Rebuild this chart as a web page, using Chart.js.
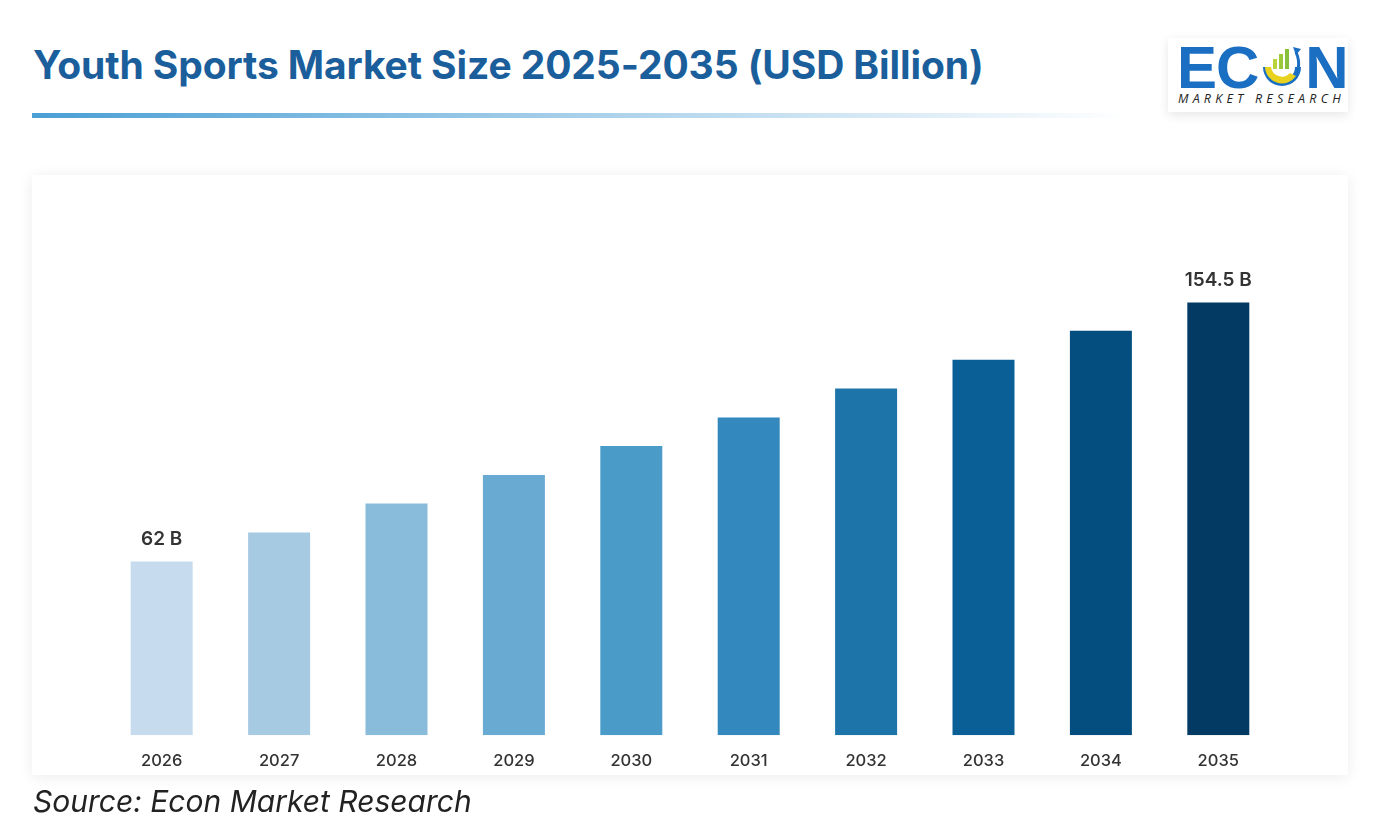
<!DOCTYPE html>
<html>
<head>
<meta charset="utf-8">
<script src="https://cdn.jsdelivr.net/npm/chart.js@4"></script>
<style>
    html, body { margin: 0; padding: 0; background: #ffffff; }
    body { width: 1380px; height: 836px; position: relative; overflow: hidden; font-family: Inter, "Noto Sans", sans-serif; }
    .title {
        position: absolute; left: 33px; top: 45px;
        font-size: 39px; font-weight: 700; line-height: 1;
        color: #1a5e9b; letter-spacing: -0.1px;
    }
    .rule {
        position: absolute; left: 32px; top: 113px; width: 1095px; height: 5px;
        background: linear-gradient(to right, #4a9fd5 0%, #9fcbe8 45%, rgba(255,255,255,0) 100%);
    }
    .logo {
        position: absolute; left: 1168px; top: 38px; width: 180px; height: 74px;
        background: #fff; box-shadow: 0 3px 10px rgba(0,0,0,0.10);
    }
    .logo .word {
        position: absolute; left: 9px; top: 3px; height: 54px;
        font-family: "Liberation Sans", Arial, sans-serif; font-weight: 700;
        font-size: 60px; line-height: 54px; color: #1b6fc2; letter-spacing: -1px;
        display: flex; align-items: center;
    }
    .logo svg { margin: 0 1px 0 2px; }
    .logo .sub {
        position: absolute; left: 10px; top: 52px;
        font-family: "Open Sans", sans-serif; font-style: italic; font-size: 12.5px;
        letter-spacing: 4.2px; color: #222;
    }
    .card {
        position: absolute; left: 32px; top: 175px; width: 1316px; height: 600px;
        background: #fff; box-shadow: 0 2px 14px rgba(0,0,0,0.08);
    }
    .chart-box {
        position: absolute; left: 32px; top: 175px; width: 1316px; height: 610px;
    }
    .source {
        position: absolute; left: 33px; top: 786px;
        font-size: 30px; font-style: italic; color: #222; line-height: 1;
    }
</style>
</head>
<body>
<div class="title">Youth Sports Market Size 2025-2035 (USD Billion)</div>
<div class="rule"></div>
<div class="logo">
    <div class="word">EC<svg width="44" height="46" viewBox="0 0 44 46">
        <path d="M3 22 A19 19 0 0 0 41 22 L35 22 A13 13 0 0 1 9 22 Z" fill="#1b6fc2"/>
        <path d="M5 22 A17 17 0 0 0 36 31 L30 28 A11 11 0 0 1 11 22 Z" fill="#e8d21e"/>
        <rect x="13" y="14" width="4" height="10" fill="#b9d43a"/>
        <rect x="19" y="9" width="4" height="15" fill="#9cc93a"/>
        <rect x="25" y="4" width="4" height="20" fill="#86c03c"/>
        <path d="M33 2 L41 4 L36 10 Z" fill="#1b6fc2"/>
        <path d="M36 7 Q40 16 38 24" stroke="#1b6fc2" stroke-width="3" fill="none"/>
    </svg>N</div>
    <div class="sub">MARKET RESEARCH</div>
</div>
<div class="card"></div>
<div class="chart-box"><canvas id="marketChart"></canvas></div>
<div class="source">Source: Econ Market Research</div>

<script>
// ============================================================
// Chart data
// ============================================================

const YEARS = ['2026', '2027', '2028', '2029', '2030', '2031', '2032', '2033', '2034', '2035'];

// Market size, USD billion
const MARKET_SIZE = [62, 72.4, 82.7, 92.9, 103.2, 113.4, 123.8, 134.0, 144.4, 154.5];

// Value labels shown above bars (only first and last are labelled)
const VALUE_LABELS = ['62 B', '', '', '', '', '', '', '', '', '154.5 B'];

const BAR_COLORS = ['#c6dcee', '#a7cae3', '#89bbdb', '#68aad2', '#4a9bc8',
                    '#3388bd', '#1c74a8', '#0a6096', '#044d7f', '#023a63'];

// Draws the value labels above bars
const valueLabelPlugin = {
    id: 'valueLabels',
    afterDatasetsDraw(chart) {
        const ctx = chart.ctx;
        const meta = chart.getDatasetMeta(0);
        ctx.save();
        ctx.font = '600 19px Inter, "Noto Sans", sans-serif';
        ctx.fillStyle = '#333333';
        ctx.textAlign = 'center';
        ctx.textBaseline = 'middle';
        meta.data.forEach((bar, i) => {
            if (VALUE_LABELS[i]) {
                ctx.fillText(VALUE_LABELS[i], bar.x, bar.y - 22);
            }
        });
        ctx.restore();
    }
};

window.addEventListener('DOMContentLoaded', function() {
    const ctx = document.getElementById('marketChart');

    new Chart(ctx, {
        type: 'bar',
        data: {
            labels: YEARS,
            datasets: [{
                label: 'Market Size',
                data: MARKET_SIZE,
                backgroundColor: BAR_COLORS,
                borderWidth: 0,
                categoryPercentage: 1,
                barPercentage: 0.528
            }]
        },
        options: {
            responsive: true,
            maintainAspectRatio: false,
            animation: false,
            layout: {
                padding: { left: 71, right: 71, top: 84, bottom: 6 }
            },
            plugins: {
                legend: { display: false },
                title: { display: false },
                tooltip: { enabled: false }
            },
            scales: {
                x: {
                    grid: { display: false },
                    border: { display: false },
                    ticks: {
                        color: '#333333',
                        padding: 8,
                        font: { family: 'Inter, "Noto Sans", sans-serif', size: 16.5, weight: '500' }
                    }
                },
                y: {
                    display: false,
                    min: 0,
                    max: 170
                }
            }
        },
        plugins: [valueLabelPlugin]
    });
});
</script>
</body>
</html>
